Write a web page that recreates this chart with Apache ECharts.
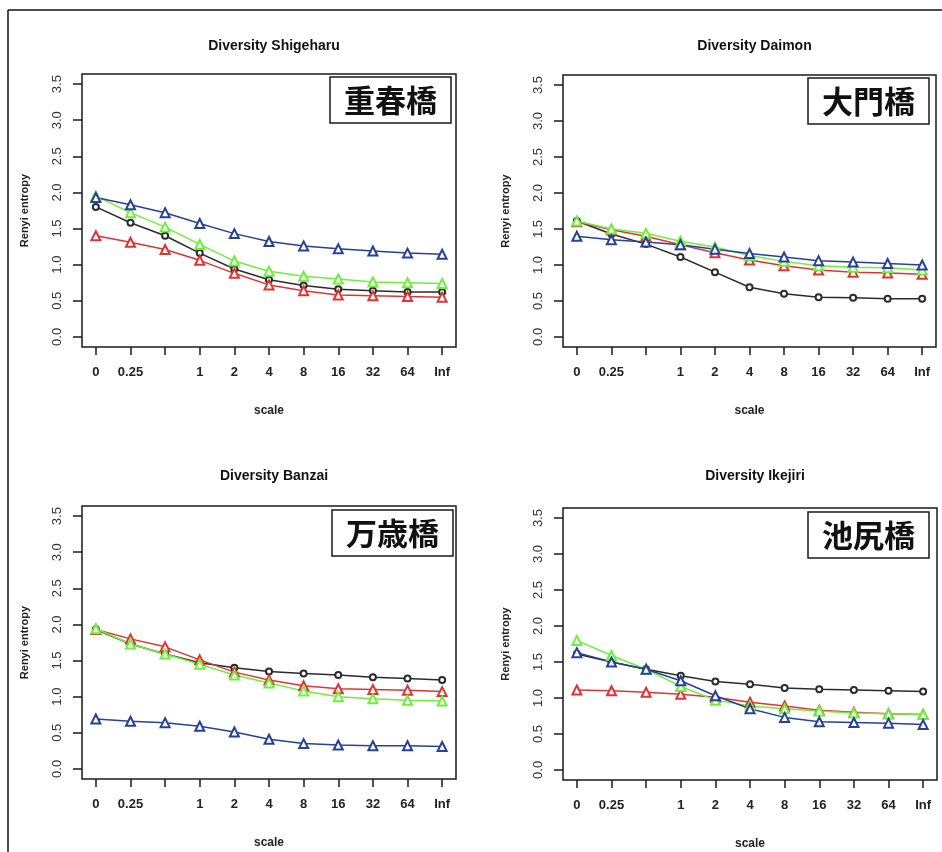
<!DOCTYPE html>
<html>
<head>
<meta charset="utf-8">
<script src="https://cdn.jsdelivr.net/npm/echarts@6/dist/echarts.min.js"></script>
<style>
  html, body { margin: 0; padding: 0; background: #fff; }
  #chart { width: 942px; height: 852px; }
</style>
</head>
<body>
<div id="chart"></div>
<script>
// scale values (x axis), the 0.5 label is not printed in the original
const scaleLabels = ["0", "0.25", "", "1", "2", "4", "8", "16", "32", "64", "Inf"];
const yTicks = [0, 0.5, 1, 1.5, 2, 2.5, 3, 3.5];

const panelTitles = ["Diversity Shigeharu", "Diversity Daimon", "Diversity Banzai", "Diversity Ikejiri"];
const bridgeNames = ["重春橋", "大門橋", "万歳橋", "池尻橋"];

// Shigeharu
const shigeBlack = [1.80, 1.58, 1.40, 1.16, 0.94, 0.79, 0.71, 0.66, 0.64, 0.62, 0.62];
const shigeRed   = [1.40, 1.31, 1.21, 1.06, 0.88, 0.72, 0.64, 0.58, 0.57, 0.56, 0.55];
const shigeGreen = [1.95, 1.72, 1.52, 1.28, 1.05, 0.91, 0.84, 0.80, 0.76, 0.75, 0.74];
const shigeBlue  = [1.93, 1.83, 1.72, 1.57, 1.43, 1.32, 1.26, 1.22, 1.19, 1.16, 1.145];

// Daimon
const daimonBlack = [1.61, 1.43, 1.29, 1.11, 0.90, 0.69, 0.60, 0.55, 0.545, 0.53, 0.53];
const daimonRed   = [1.60, 1.49, 1.40, 1.28, 1.17, 1.07, 0.99, 0.93, 0.90, 0.89, 0.87];
const daimonGreen = [1.61, 1.50, 1.44, 1.33, 1.25, 1.13, 1.05, 0.99, 0.97, 0.96, 0.93];
const daimonBlue  = [1.40, 1.35, 1.32, 1.28, 1.22, 1.16, 1.11, 1.06, 1.04, 1.02, 1.00];

// Banzai
const banzaiBlack = [1.93, 1.73, 1.59, 1.47, 1.40, 1.35, 1.32, 1.30, 1.27, 1.25, 1.23];
const banzaiRed   = [1.93, 1.80, 1.69, 1.51, 1.34, 1.23, 1.15, 1.11, 1.10, 1.09, 1.07];
const banzaiGreen = [1.94, 1.73, 1.59, 1.45, 1.30, 1.19, 1.08, 1.00, 0.97, 0.95, 0.94];
const banzaiBlue  = [0.69, 0.66, 0.64, 0.59, 0.51, 0.41, 0.35, 0.33, 0.32, 0.32, 0.31];

// Ikejiri
const ikeBlack = [1.61, 1.50, 1.40, 1.31, 1.23, 1.19, 1.14, 1.12, 1.11, 1.10, 1.09];
const ikeRed   = [1.11, 1.10, 1.08, 1.05, 1.01, 0.94, 0.89, 0.83, 0.80, 0.78, 0.77];
const ikeGreen = [1.80, 1.59, 1.40, 1.16, 0.97, 0.89, 0.85, 0.82, 0.79, 0.78, 0.77];
const ikeBlue  = [1.63, 1.50, 1.40, 1.24, 1.03, 0.85, 0.73, 0.67, 0.66, 0.65, 0.63];

const panelData = [
  [shigeBlack, shigeRed, shigeGreen, shigeBlue],
  [daimonBlack, daimonRed, daimonGreen, daimonBlue],
  [banzaiBlack, banzaiRed, banzaiGreen, banzaiBlue],
  [ikeBlack, ikeRed, ikeGreen, ikeBlue],
];

const lineColors = ["#2b2b2b", "#e03434", "#6cf03c", "#27409a"];
const symbols = ["emptyCircle", "emptyTriangle", "emptyTriangle", "emptyTriangle"];

// plot boxes
const boxes = [
  { left: 82, top: 74, width: 374, height: 273 },
  { left: 563, top: 75, width: 373, height: 272 },
  { left: 82, top: 506, width: 374, height: 273 },
  { left: 563, top: 508, width: 374, height: 272 },
];
const labelBoxes = [
  { left: 330, top: 77 },
  { left: 808, top: 78 },
  { left: 332, top: 510 },
  { left: 808, top: 512 },
];

const txt = "#222";
const font = "Liberation Sans, Arial, sans-serif";

const chart = echarts.init(document.getElementById("chart"));

const grid = [], xAxis = [], yAxis = [], series = [], title = [];

boxes.forEach((b, p) => {
  grid.push({
    left: b.left, top: b.top, width: b.width, height: b.height,
    show: true, borderColor: "#1a1a1a", borderWidth: 1.5, backgroundColor: "transparent",
  });
  xAxis.push({
    gridIndex: p, type: "value", min: -0.4, max: 10.4,
    name: "scale", nameLocation: "middle", nameGap: 58,
    nameTextStyle: { fontFamily: font, fontWeight: "bold", fontSize: 12, color: txt },
    axisLine: { show: false, onZero: false },
    splitLine: { show: false },
    axisTick: { show: true, inside: false, length: 8, lineStyle: { color: "#1a1a1a", width: 1.5 },
      customValues: scaleLabels.map((s, i) => i) },
    axisLabel: {
      customValues: scaleLabels.map((s, i) => i),
      formatter: (v) => scaleLabels[Math.round(v)],
      margin: 19, fontFamily: font, fontWeight: "bold", fontSize: 13, color: txt,
    },
  });
  yAxis.push({
    gridIndex: p, type: "value", min: -0.14, max: 3.64,
    name: "Renyi entropy", nameLocation: "middle", nameGap: 52, nameRotate: 90,
    nameTextStyle: { fontFamily: font, fontWeight: "bold", fontSize: 11, color: txt },
    axisLine: { show: false, onZero: false },
    splitLine: { show: false },
    axisTick: { show: true, inside: false, length: 9, lineStyle: { color: "#1a1a1a", width: 1.5 },
      customValues: yTicks },
    axisLabel: {
      customValues: yTicks, rotate: 90,
      formatter: (v) => v.toFixed(1),
      margin: 18, fontFamily: font, fontSize: 13, color: "#333",
    },
  });
  title.push({
    text: panelTitles[p],
    left: b.left + b.width / 2, top: p < 2 ? 34 : 464, textAlign: "center",
    textStyle: { fontFamily: font, fontWeight: "bold", fontSize: 14, color: "#111" },
  });
  title.push({
    text: bridgeNames[p],
    left: labelBoxes[p].left, top: labelBoxes[p].top,
    padding: [6, 14], borderColor: "#1a1a1a", borderWidth: 1.5, backgroundColor: "#fff",
    textStyle: { fontFamily: "Noto Sans CJK JP", fontWeight: "bold", fontSize: 31, lineHeight: 34, color: "#111" },
  });
  panelData[p].forEach((vals, k) => {
    series.push({
      type: "line", xAxisIndex: p, yAxisIndex: p,
      name: ["black", "red", "green", "blue"][k],
      data: vals.map((v, i) => [i, v]),
      symbol: symbols[k], symbolSize: k === 0 ? 6 : 9,
      lineStyle: { color: lineColors[k], width: 1.5 },
      itemStyle: { color: lineColors[k], borderColor: lineColors[k], borderWidth: 1.5 },
      animation: false,
    });
  });
});

const option = {
  backgroundColor: "#fff",
  animation: false,
  title,
  grid,
  xAxis,
  yAxis,
  series,
  graphic: [
    { type: "line", shape: { x1: 8, y1: 10, x2: 942, y2: 10 }, style: { stroke: "#111", lineWidth: 1.5 } },
    { type: "line", shape: { x1: 8, y1: 10, x2: 8, y2: 852 }, style: { stroke: "#111", lineWidth: 1.5 } },
  ],
};

chart.setOption(option);
</script>
</body>
</html>
